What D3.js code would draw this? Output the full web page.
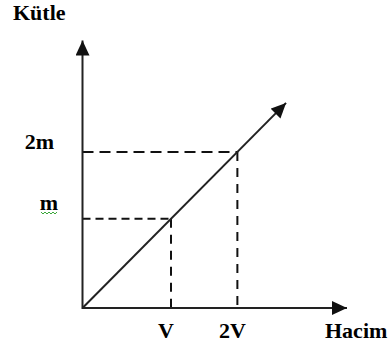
<!DOCTYPE html>
<html>
<head>
<meta charset="utf-8">
<script src="https://cdn.jsdelivr.net/npm/d3@7"></script>
<style>
  html, body { margin: 0; padding: 0; background: #fff; }
  svg { display: block; }
  text { font-family: "Liberation Serif", "Times New Roman", serif; font-weight: bold; font-size: 22px; fill: #000; }
</style>
</head>
<body>
<div id="chart"></div>
<script>
// ---- data ----
const xTickValues = [1, 1.75];
const xTickLabels = ["V", "2V"];
const yTickValues = [1, 1.75];
const yTickLabels = ["m", "2m"];
const linePoints = [[0, 0], [2.3, 2.3]];
const guidePoints = [[1, 1], [1.75, 1.75]];
const xTitle = "Hacim";
const yTitle = "Kütle";

// ---- layout ----
const W = 389, H = 346;
const svg = d3.select("#chart").append("svg").attr("width", W).attr("height", H);

const x = d3.scaleLinear().domain([0, 3]).range([82.5, 348]);
const y = d3.scaleLinear().domain([0, 3]).range([308, 40.5]);

const defs = svg.append("defs");
defs.append("marker")
  .attr("id", "arrow")
  .attr("markerUnits", "userSpaceOnUse")
  .attr("markerWidth", 16).attr("markerHeight", 16)
  .attr("refX", 15).attr("refY", 7)
  .attr("orient", "auto")
  .append("path")
  .attr("d", "M0,0L15,7L0,14Z")
  .attr("fill", "#111");

// dashed guides
const dashStyles = ["8,5", "11,6"];
guidePoints.forEach((p, i) => {
  svg.append("line")
    .attr("x1", x(0)).attr("x2", x(p[0]))
    .attr("y1", y(p[1])).attr("y2", y(p[1]))
    .attr("stroke", "#111").attr("stroke-width", 2)
    .attr("stroke-dasharray", dashStyles[i]);
  svg.append("line")
    .attr("x1", x(p[0])).attr("x2", x(p[0]))
    .attr("y1", y(p[1])).attr("y2", y(0))
    .attr("stroke", "#111").attr("stroke-width", 2)
    .attr("stroke-dasharray", "9,7");
});

// axes lines with arrows
svg.append("line")
  .attr("x1", x(0)).attr("y1", y(0)).attr("x2", x(3) - 1).attr("y2", y(0))
  .attr("stroke", "#222").attr("stroke-width", 2)
  .attr("marker-end", "url(#arrow)");
svg.append("line")
  .attr("x1", x(0)).attr("y1", y(0) + 1).attr("x2", x(0)).attr("y2", y(3))
  .attr("stroke", "#222").attr("stroke-width", 2)
  .attr("marker-end", "url(#arrow)");

// diagonal line
svg.append("path")
  .datum(linePoints)
  .attr("d", d3.line().x(d => x(d[0])).y(d => y(d[1])))
  .attr("fill", "none")
  .attr("stroke", "#222").attr("stroke-width", 2)
  .attr("marker-end", "url(#arrow)");

// tick labels via d3 axes
const xAxis = d3.axisBottom(x).tickValues(xTickValues)
  .tickFormat((d, i) => xTickLabels[i]).tickSize(0);
const gx = svg.append("g").attr("transform", `translate(0,${y(0)})`).call(xAxis);
gx.select(".domain").remove();
gx.selectAll("text").attr("font-size", null).attr("font-family", null)
  .attr("y", 30).attr("dy", 0).attr("dx", -5.5);

const yAxis = d3.axisLeft(y).tickValues(yTickValues)
  .tickFormat((d, i) => yTickLabels[i]).tickSize(0);
const gy = svg.append("g").attr("transform", `translate(${x(0)},0)`).call(yAxis);
gy.select(".domain").remove();
const yLabelDx = [-24.5, -28.5];
const yLabelDy = [-9, -3];
gy.selectAll("text").attr("font-size", null).attr("font-family", null)
  .attr("x", (d, i) => yLabelDx[i]).attr("dy", (d, i) => yLabelDy[i]);

// titles
svg.append("text").attr("x", 13).attr("y", 20).text(yTitle);
svg.append("text").attr("x", 325).attr("y", 338).text(xTitle);

// spell-check squiggle under "m"
const sq = d3.range(0, 9).map(i => [41 + i * 2, 212 + (i % 2 ? 2 : 0)]);
svg.append("path")
  .attr("d", d3.line()(sq))
  .attr("fill", "none").attr("stroke", "#3aa83a").attr("stroke-width", 1);
</script>
</body>
</html>
